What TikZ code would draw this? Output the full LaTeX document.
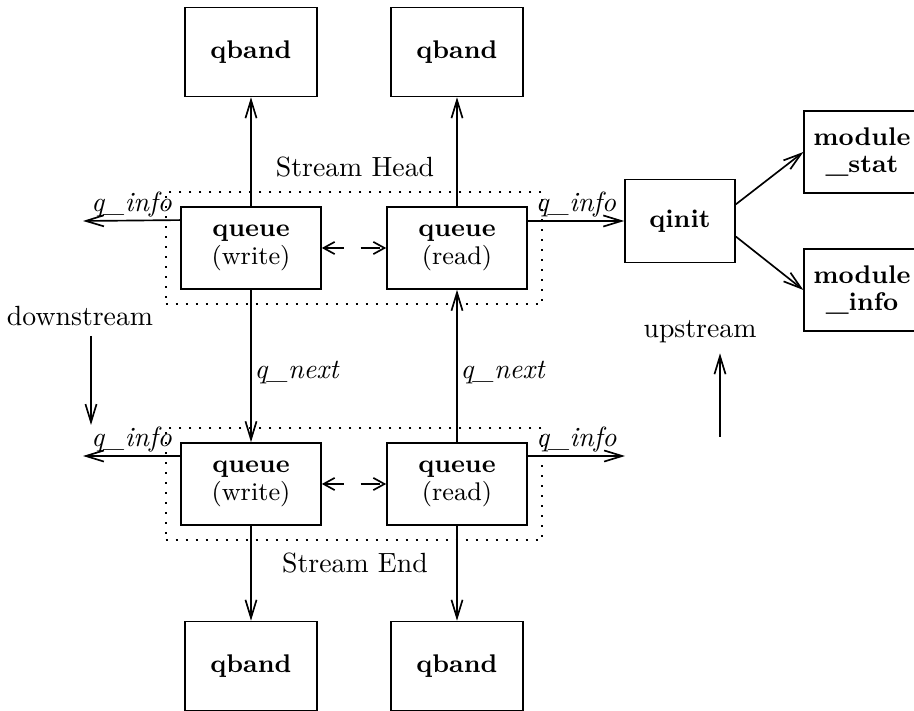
\documentclass[tikz,border=0pt]{standalone}
\usetikzlibrary{arrows.meta,fit}
\begin{document}
\begin{tikzpicture}[
		x=0.36pt, y=-0.36pt,
		line width=0.6pt,
		>={Straight Barb[length=6.5pt,width=4pt]},
		box/.style={draw, align=center, font=\fontsize{9.2}{10}\selectfont},
		qbox/.style={box, minimum width=50.4pt, minimum height=29.5pt},
		bandbox/.style={box, minimum width=47.5pt, minimum height=32pt},
		modbox/.style={box, minimum width=41pt, minimum height=29.5pt},
		grp/.style={draw, dash pattern=on 0.7pt off 2.9pt, inner sep=5.2pt},
		pair/.style={{Straight Barb[length=4pt,width=4.4pt]}-{Straight Barb[length=4pt,width=4.4pt]}, dash pattern=on 7pt off 6pt},
		lbl/.style={font=\itshape, inner sep=1pt}
	]
	\useasboundingbox (0,0) rectangle (914,711);

	% stream head
	\node[bandbox] (bandTW) at (251,52) {\textbf{qband}};
	\node[bandbox] (bandTR) at (457,52) {\textbf{qband}};
	\node[qbox] (qwT) at (251,248) {\textbf{queue}\\(write)};
	\node[qbox] (qrT) at (457,248) {\textbf{queue}\\(read)};
	\node[grp, fit=(qwT) (qrT)] (headgrp) {};
	\node (shead) at (355,167) {Stream Head};

	% stream end
	\node[qbox] (qwB) at (251,484) {\textbf{queue}\\(write)};
	\node[qbox] (qrB) at (457,484) {\textbf{queue}\\(read)};
	\node[grp, fit=(qwB) (qrB)] (endgrp) {};
	\node (send) at (355,563) {Stream End};
	\node[bandbox] (bandBW) at (251,666) {\textbf{qband}};
	\node[bandbox] (bandBR) at (457,666) {\textbf{qband}};

	% qinit and module structures
	\node[box, minimum width=39.6pt, minimum height=29.9pt] (qinit) at (680,221) {\textbf{qinit}};
	\node[modbox] (mstat) at (862,152) {\textbf{module}\\\textbf{\_stat}};
	\node[modbox] (minfo) at (862,290) {\textbf{module}\\\textbf{\_info}};

	% direction hints
	\node (dstr) at (80,316) {downstream};
	\coordinate (dsEnd) at (91,425);
	\node (ustr) at (700,332) {upstream};
	\coordinate (usStart) at (720,437);
	\coordinate (infoTL) at (83,221);
	\coordinate (infoBL) at (83,456);
	\coordinate (infoBR) at (625,456);

	\draw[->] (qwT) -- (bandTW);
	\draw[->] (qrT) -- (bandTR);
	\draw[pair] (qwT) -- (qrT);
	\draw[pair] (qwB) -- (qrB);
	\draw[->] (qwT) -- node[lbl, right, pos=0.54] {q\_next} (qwB);
	\draw[->] (qrB) -- node[lbl, right, pos=0.46] {q\_next} (qrT);
	\draw[->] (qwB) -- (bandBW);
	\draw[->] (qrB) -- (bandBR);

	\draw[->] ([yshift=-5pt]qwT.north west) -- node[lbl, above] {q\_info} (infoTL);
	\draw[->] (qinit.west -| qrT.east) -- node[lbl, above] {q\_info} (qinit.west);
	\draw[->] ([yshift=-5pt]qwB.north west) -- node[lbl, above] {q\_info} (infoBL);
	\draw[->] ([yshift=-5pt]qrB.north east) -- node[lbl, above] {q\_info} (infoBR);

	\draw[->] ([yshift=6pt]qinit.east) -- (mstat.west);
	\draw[->] ([yshift=-5.6pt]qinit.east) -- (minfo.west);

	\draw[->] (dstr.south -| dsEnd) -- (dsEnd);
	\draw[->] (usStart) -- (ustr.south -| usStart);
\end{tikzpicture}
\end{document}
